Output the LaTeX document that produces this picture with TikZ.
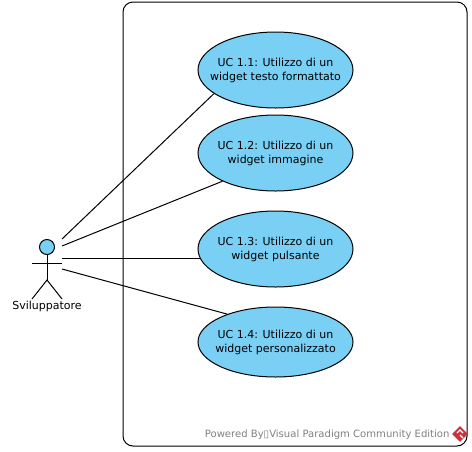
\documentclass[tikz,border=0pt]{standalone}
\usepackage{fontspec}
\setmainfont{DejaVu Sans}
\usetikzlibrary{shapes.geometric}
\definecolor{cusecase}{HTML}{7ACFF5}
\definecolor{cfooter}{HTML}{808080}
\definecolor{clogo}{HTML}{C8343C}
\tikzset{
  every picture/.style={font=\fontsize{8.25pt}{10.5pt}\selectfont, line width=0.75pt},
  usecase/.style={ellipse, draw=black, fill=cusecase, align=center, inner sep=-14pt, minimum width=116.25pt, minimum height=#1},
  usecase/.default=57pt,
  system/.style={draw=black, rounded corners=7.5pt, minimum width=258pt, minimum height=333pt, inner sep=0pt},
  assoc/.style={draw=black, line width=0.75pt},
  limb/.style={draw=black, line width=0.75pt},
  note/.style={font=\fontsize{7.55pt}{10pt}\selectfont, text=cfooter, inner sep=0pt},
}
\begin{document}
\begin{tikzpicture}[x=0.75pt, y=-0.75pt]
  \useasboundingbox (0,0) rectangle (472,451);
  \node[system] (sys) at (295,224) {};
  \node[usecase] (uc1) at (275.5,70) {UC 1.1: Utilizzo di un\\widget testo formattato};
  \node[usecase] (uc2) at (275.5,153) {UC 1.2: Utilizzo di un\\widget immagine};
  \node[usecase] (uc3) at (275.5,249) {UC 1.3: Utilizzo di un\\widget pulsante};
  \node[usecase=52.5pt] (uc4) at (275.5,342) {UC 1.4: Utilizzo di un\\widget personalizzato};
  % actor
  \node[circle, draw=black, fill=cusecase, inner sep=0pt, minimum size=11.25pt] (head) at (47,247) {};
  \coordinate (neck) at (47,280);
  \coordinate (armL) at (32,263);
  \coordinate (armR) at (62,263);
  \coordinate (footL) at (32,299);
  \coordinate (footR) at (62,299);
  \draw[limb] (head.south) -- (neck);
  \draw[limb] (armL) -- (armR);
  \draw[limb] (footL) -- (neck) -- (footR);
  \node[inner sep=0pt] (actor) at (47,306) {Sviluppatore};
  % links
  \coordinate (a1) at (62,239);
  \coordinate (a2) at (62,246);
  \coordinate (a3) at (62,258);
  \coordinate (a4) at (62,269);
  \draw[assoc] (a1) -- (uc1.201.5);
  \draw[assoc] (a2) -- (uc2.208.8);
  \draw[assoc] (a3) -- (a3 -| uc3.187);
  \draw[assoc] (a4) -- (uc4.150.3);
  % footer
  \node[note, anchor=east] (powered) at (450,435) {Powered By\char"25AF Visual Paradigm Community Edition};
  \node[diamond, fill=clogo, inner sep=0pt, minimum size=12pt] (logo) at (460,434) {};
  \draw[white, line width=0.9pt] (457,433) -- (460,430) -- (463,433) (460,435) -- (463,438);
\end{tikzpicture}
\end{document}
